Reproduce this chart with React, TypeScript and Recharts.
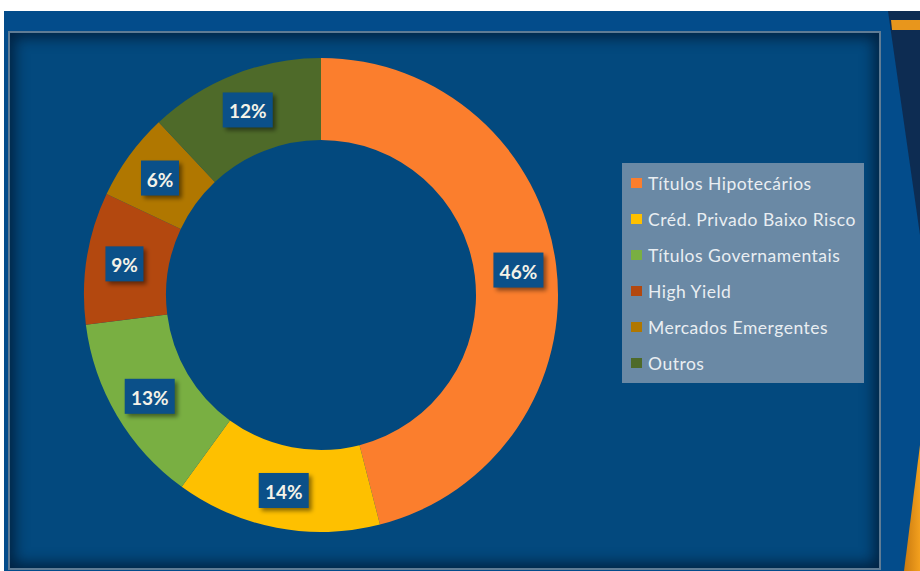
import React from 'react';
import { PieChart, Pie, Cell, Legend } from 'recharts';

const categories = [
  'Títulos Hipotecários',
  'Créd. Privado Baixo Risco',
  'Títulos Governamentais',
  'High Yield',
  'Mercados Emergentes',
  'Outros',
];
const shares = [46, 14, 13, 9, 6, 12];
const colors = ['#fb7e2d', '#fec000', '#79af42', '#b3480f', '#b07700', '#4e6a29'];

const data = categories.map((name, i) => ({ name, value: shares[i] }));

const RAD = Math.PI / 180;

const renderLabel = (props: any) => {
  const { cx, cy, midAngle, innerRadius, outerRadius, value } = props;
  const r = (innerRadius + outerRadius) / 2 + 3;
  const x = cx + r * Math.cos(-midAngle * RAD);
  const y = cy + r * Math.sin(-midAngle * RAD);
  const text = `${value}%`;
  const w = text.length === 2 ? 38 : 50;
  const h = 35;
  return (
    <g>
      <rect x={x - w / 2 + 3} y={y - h / 2 + 3} width={w} height={h} fill="rgba(0,0,0,0.45)" filter="url(#lblShadow)" />
      <rect x={x - w / 2} y={y - h / 2} width={w} height={h} fill="#0b5089" />
      <text
        x={x}
        y={y + 1}
        textAnchor="middle"
        dominantBaseline="central"
        fill="#f4f2e8"
        fontSize={19}
        fontWeight={700}
        fontFamily="Lato, 'Open Sans', sans-serif"
      >
        {text}
      </text>
    </g>
  );
};

const renderLegend = (props: any) => {
  const payload = [...(props.payload || [])].sort(
    (a: any, b: any) => categories.indexOf(a.value) - categories.indexOf(b.value)
  );
  return (
    <div
      style={{
        width: 242,
        height: 220,
        background: '#6a89a5',
        boxSizing: 'border-box',
        paddingTop: 2,
        paddingLeft: 9,
      }}
    >
      {payload.map((entry: any, i: number) => (
        <div key={i} style={{ display: 'flex', alignItems: 'center', height: 36 }}>
          <span style={{ display: 'inline-block', width: 11, height: 10, background: entry.color, marginRight: 6 }} />
          <span
            style={{
              color: '#e9eef2',
              fontFamily: "Lato, 'Open Sans', sans-serif",
              fontSize: 17.5,
              letterSpacing: 0.5,
              whiteSpace: 'nowrap',
            }}
          >
            {entry.value}
          </span>
        </div>
      ))}
    </div>
  );
};

export default function App() {
  return (
    <div style={{ position: 'absolute', left: 0, top: 0, width: 920, height: 571, background: '#ffffff', overflow: 'hidden' }}>
      <svg width={920} height={571} style={{ position: 'absolute', left: 0, top: 0 }}>
        <defs>
          <filter id="lblShadow" x="-30%" y="-30%" width="160%" height="160%">
            <feGaussianBlur stdDeviation="2" />
          </filter>
          <linearGradient id="orangeGrad" x1="0" y1="0" x2="1" y2="0">
            <stop offset="0" stopColor="#c97a10" />
            <stop offset="1" stopColor="#f3a01e" />
          </linearGradient>
        </defs>
        <rect x={4} y={11} width={916} height={560} fill="#034c8b" />
        <polygon points="888,11 920,11 920,235" fill="#0d2c52" />
        <polygon points="891,20 920,20 920,30 892,30" fill="#e8961c" />
        <polygon points="920,445 920,571 904,571" fill="url(#orangeGrad)" />
      </svg>
      <div
        style={{
          position: 'absolute',
          left: 8,
          top: 31,
          width: 869,
          height: 535,
          border: '2px solid #5f7c95',
          background: '#03497e',
          boxShadow: 'inset 0 0 14px 5px rgba(0,15,35,0.65)',
        }}
      />
      <div style={{ position: 'absolute', left: 0, top: 0 }}>
        <PieChart width={920} height={571} margin={{ top: 0, right: 0, bottom: 0, left: 0 }}>
          <Pie
            data={data}
            dataKey="value"
            nameKey="name"
            cx={321}
            cy={295}
            innerRadius={155}
            outerRadius={237}
            startAngle={90}
            endAngle={-270}
            stroke="none"
            labelLine={false}
            label={renderLabel}
            isAnimationActive={false}
          >
            {data.map((d, i) => (
              <Cell key={d.name} fill={colors[i]} />
            ))}
          </Pie>
          <Legend
            layout="vertical"
            align="right"
            verticalAlign="middle"
            content={renderLegend}
            wrapperStyle={{ position: 'absolute', left: 622, top: 163, right: 'auto', bottom: 'auto', width: 242, height: 220 }}
          />
        </PieChart>
      </div>
    </div>
  );
}
